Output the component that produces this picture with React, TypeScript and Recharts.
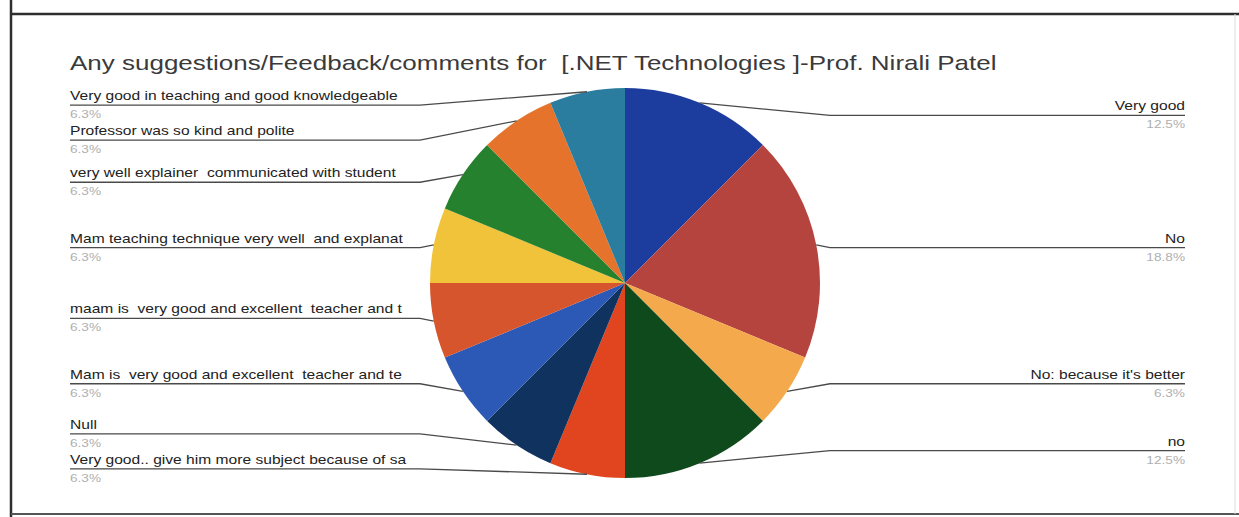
import { PieChart, Pie, Cell } from "recharts"

// survey answers, clockwise from 12 o'clock
const answers = [
  "Very good",
  "No",
  "No: because it's better",
  "no",
  "Very good.. give him more subject because of sa",
  "Null",
  "Mam is  very good and excellent  teacher and te",
  "maam is  very good and excellent  teacher and t",
  "Mam teaching technique very well  and explanat",
  "very well explainer  communicated with student",
  "Professor was so kind and polite",
  "Very good in teaching and good knowledgeable",
]
const responses = [2, 3, 1, 2, 1, 1, 1, 1, 1, 1, 1, 1]
const sliceColors = [
  "#1c3d9e", "#b5443e", "#f4a94c", "#0f4a1c", "#e0451f", "#10325f",
  "#2b59b5", "#d7552c", "#f1c33a", "#26812f", "#e5732b", "#2a7d9e",
]
const title = "Any suggestions/Feedback/comments for  [.NET Technologies ]-Prof. Nirali Patel"

const W = 1239
const H = 517
const CX = 625
const CY = 283
const R = 195
const LEFT_X = 70
const RIGHT_X = 1185
const GAP = 35
const FONT = "'Liberation Sans', Arial, sans-serif"
const RAD = Math.PI / 180

const data = answers.map((name, i) => ({ name, value: responses[i] }))
const total = responses.reduce((a, b) => a + b, 0)

// label rows start at the slice's height and get pushed down when they crowd
function layoutLabels(): number[] {
  const ys: number[] = []
  const sides: Record<string, number[]> = { left: [], right: [] }
  let acc = 0
  responses.forEach((v, i) => {
    const mid = ((acc + v / 2) / total) * 360
    acc += v
    ys[i] = CY - Math.cos(mid * RAD) * R * 0.93
    sides[mid < 180 ? "right" : "left"].push(i)
  })
  for (const key of ["left", "right"]) {
    const idx = sides[key].sort((a, b) => ys[a] - ys[b])
    for (let k = 1; k < idx.length; k++) {
      if (ys[idx[k]] - ys[idx[k - 1]] < GAP) ys[idx[k]] = ys[idx[k - 1]] + GAP
    }
  }
  return ys
}
const labelYs = layoutLabels()

function SliceLabel(props: any) {
  const { cx, cy, midAngle, outerRadius, index, value } = props
  const ex = cx + outerRadius * Math.cos(-midAngle * RAD)
  const ey = cy + outerRadius * Math.sin(-midAngle * RAD)
  const right = ex > cx
  const ly = labelYs[index]
  const lx = right ? RIGHT_X : LEFT_X
  // leader runs flat outside the pie's box, then angles in to the slice
  const kx = right ? cx + outerRadius + 10 : cx - outerRadius - 10
  const pct = ((value / total) * 100).toFixed(1) + "%"
  return (
    <g>
      <polyline
        points={`${ex},${ey} ${kx},${ly} ${lx},${ly}`}
        fill="none"
        stroke="#4a4a4a"
        strokeWidth={1.3}
      />
      <g transform={`translate(${lx},${ly}) scale(1.3,1)`}>
        <text
          x={0}
          y={-5}
          textAnchor={right ? "end" : "start"}
          fill="#222"
          fontSize={12}
          fontFamily={FONT}
          style={{ whiteSpace: "pre" }}
        >
          {answers[index]}
        </text>
        <text
          x={0}
          y={13}
          textAnchor={right ? "end" : "start"}
          fill="#b0b0b0"
          fontSize={10.5}
          fontFamily={FONT}
        >
          {pct}
        </text>
      </g>
    </g>
  )
}

export default function App() {
  return (
    <div style={{ position: "absolute", left: 0, top: 0, width: W, height: H, background: "#fff" }}>
      <PieChart width={W} height={H} margin={{ top: 0, right: 0, bottom: 0, left: 0 }}>
        <Pie
          data={data}
          dataKey="value"
          nameKey="name"
          cx={CX}
          cy={CY}
          outerRadius={R}
          startAngle={90}
          endAngle={-270}
          stroke="none"
          label={SliceLabel}
          labelLine={false}
          isAnimationActive={false}
        >
          {data.map((d, i) => (
            <Cell key={d.name} fill={sliceColors[i]} />
          ))}
        </Pie>
      </PieChart>
      <svg
        width={W}
        height={H}
        style={{ position: "absolute", left: 0, top: 0, pointerEvents: "none" }}
      >
        {/* photo frame edges */}
        <line x1={11} y1={14} x2={W} y2={14} stroke="#2e2e2e" strokeWidth={2.5} />
        <line x1={11} y1={0} x2={11} y2={H} stroke="#2e2e2e" strokeWidth={2.5} />
        <line x1={11} y1={514} x2={W} y2={514} stroke="#555" strokeWidth={2} />
        <line x1={1235} y1={14} x2={1235} y2={514} stroke="#ddd" strokeWidth={1} />
        <g transform={`translate(70,70) scale(1.3,1)`}>
          <text x={0} y={0} fill="#3a3a3a" fontSize={20} fontFamily={FONT} style={{ whiteSpace: "pre" }}>
            {title}
          </text>
        </g>
      </svg>
    </div>
  )
}
